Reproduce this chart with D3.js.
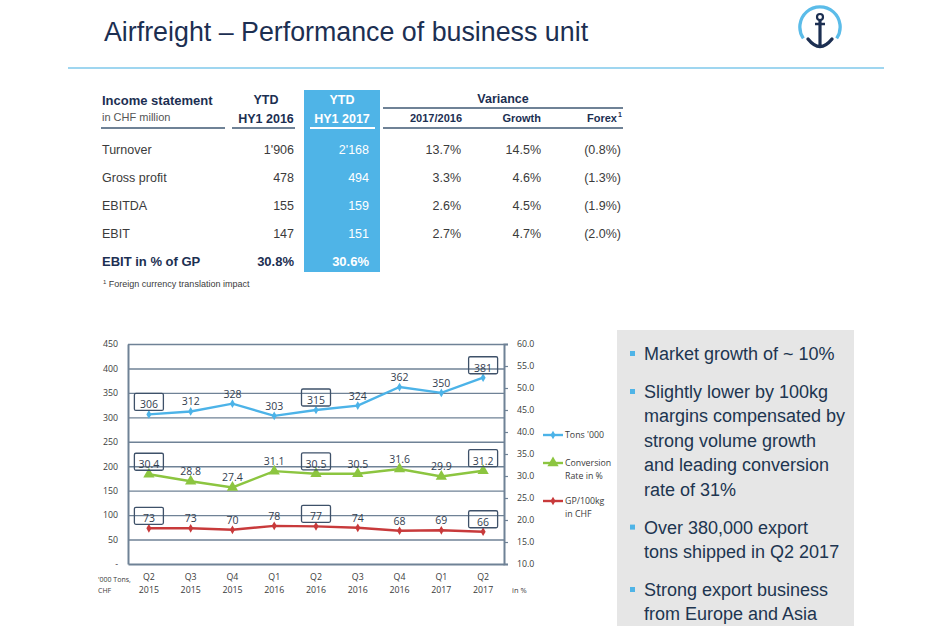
<!DOCTYPE html>
<html>
<head>
<meta charset="utf-8">
<script src="https://cdn.jsdelivr.net/npm/d3@7"></script>
<style>
  body { margin: 0; background: #fff; }
  svg { display: block; font-family: "Liberation Sans", Arial, sans-serif; }
</style>
</head>
<body>
<div id="slide"></div>
<script>
// chart data
const quarters = ["Q2", "Q3", "Q4", "Q1", "Q2", "Q3", "Q4", "Q1", "Q2"];
const years = ["2015", "2015", "2015", "2016", "2016", "2016", "2016", "2017", "2017"];
const tons = [306, 312, 328, 303, 315, 324, 362, 350, 381];
const conversion = [30.4, 28.8, 27.4, 31.1, 30.5, 30.5, 31.6, 29.9, 31.2];
const gpPer100kg = [73, 73, 70, 78, 77, 74, 68, 69, 66];
const boxedIdx = [0, 4, 8];
const leftTicks = [0, 50, 100, 150, 200, 250, 300, 350, 400, 450];
const rightTicks = [10, 15, 20, 25, 30, 35, 40, 45, 50, 55, 60];

// table data
const rowLabels = ["Turnover", "Gross profit", "EBITDA", "EBIT", "EBIT in % of GP"];
const hy2016 = ["1'906", "478", "155", "147", "30.8%"];
const hy2017 = ["2'168", "494", "159", "151", "30.6%"];
const var1716 = ["13.7%", "3.3%", "2.6%", "2.7%", ""];
const growth = ["14.5%", "4.6%", "4.5%", "4.7%", ""];
const forex = ["(0.8%)", "(1.3%)", "(1.9%)", "(2.0%)", ""];

const bullets = [
    ["Market growth of ~ 10%"],
    ["Slightly lower by 100kg", "margins compensated by", "strong volume growth", "and leading conversion", "rate of 31%"],
    ["Over 380,000 export", "tons shipped in Q2 2017"],
    ["Strong export business", "from Europe and Asia"]
];

const W = 950, H = 634;
const navy = "#1c2f52", textGrey = "#3b3b3b", slate = "#6f8296";
const cTons = "#4cb3e8", cConv = "#8cc540", cGp = "#c83a3b";

const svg = d3.select("#slide").append("svg").attr("width", W).attr("height", H);
svg.append("rect").attr("width", W).attr("height", H).attr("fill", "#fff");

// ---- header ----
svg.append("text").attr("x", 104).attr("y", 41)
    .attr("font-size", 26.8).attr("fill", navy)
    .text("Airfreight \u2013 Performance of business unit");
svg.append("line").attr("x1", 68).attr("x2", 884).attr("y1", 68).attr("y2", 68)
    .attr("stroke", "#9fd6f0").attr("stroke-width", 2);

// logo
const logo = svg.append("g").attr("transform", "translate(820,27)");
const ring = d3.arc().innerRadius(18.5).outerRadius(21.8)
    .startAngle(-Math.PI * 0.69).endAngle(Math.PI * 0.69);
logo.append("path").attr("d", ring()).attr("fill", "#5bbce9");
logo.append("circle").attr("cx", 0).attr("cy", -10).attr("r", 3).attr("fill", "none")
    .attr("stroke", navy).attr("stroke-width", 2.2);
logo.append("line").attr("x1", 0).attr("x2", 0).attr("y1", -7).attr("y2", 20)
    .attr("stroke", navy).attr("stroke-width", 3.2);
logo.append("line").attr("x1", -5).attr("x2", 5).attr("y1", -3).attr("y2", -3)
    .attr("stroke", navy).attr("stroke-width", 2.5);
logo.append("path").attr("d", "M-12,12 Q0,27 12,12").attr("fill", "none")
    .attr("stroke", navy).attr("stroke-width", 3.4).attr("stroke-linecap", "round");

// ---- income statement table ----
const tbl = svg.append("g");
const rowY = d3.scalePoint().domain(rowLabels).range([154, 266]);

tbl.append("rect").attr("x", 304).attr("y", 90).attr("width", 76).attr("height", 182)
    .attr("fill", "#4fb4e7");

tbl.append("text").attr("x", 102).attr("y", 105).attr("font-size", 13).attr("font-weight", "bold")
    .attr("fill", navy).text("Income statement");
tbl.append("text").attr("x", 102).attr("y", 121).attr("font-size", 11).attr("fill", "#555")
    .text("in CHF million");
tbl.append("text").attr("x", 266).attr("y", 104).attr("font-size", 12.5).attr("font-weight", "bold")
    .attr("text-anchor", "middle").attr("fill", navy).text("YTD");
tbl.append("text").attr("x", 266).attr("y", 123).attr("font-size", 12.5).attr("font-weight", "bold")
    .attr("text-anchor", "middle").attr("fill", navy).text("HY1 2016");
tbl.append("text").attr("x", 342).attr("y", 104).attr("font-size", 12.5).attr("font-weight", "bold")
    .attr("text-anchor", "middle").attr("fill", "#fff").text("YTD");
tbl.append("text").attr("x", 342).attr("y", 123).attr("font-size", 12.5).attr("font-weight", "bold")
    .attr("text-anchor", "middle").attr("fill", "#fff").text("HY1 2017");
tbl.append("text").attr("x", 503).attr("y", 103).attr("font-size", 12.5).attr("font-weight", "bold")
    .attr("text-anchor", "middle").attr("fill", navy).text("Variance");
tbl.append("line").attr("x1", 383).attr("x2", 623).attr("y1", 108).attr("y2", 108)
    .attr("stroke", slate).attr("stroke-width", 2);

const subHead = [["2017/2016", 462], ["Growth", 541], ["Forex", 617]];
tbl.selectAll("text.sub").data(subHead).join("text").attr("class", "sub")
    .attr("x", d => d[1]).attr("y", 122).attr("font-size", 11).attr("font-weight", "bold")
    .attr("text-anchor", "end").attr("fill", navy).text(d => d[0]);
tbl.append("text").attr("x", 618).attr("y", 117).attr("font-size", 7).attr("font-weight", "bold")
    .attr("fill", navy).text("1");

const underlines = [[101, 225, slate], [232, 295, slate], [310, 375, "#fff"], [383, 623, slate]];
tbl.selectAll("line.ul").data(underlines).join("line").attr("class", "ul")
    .attr("x1", d => d[0]).attr("x2", d => d[1]).attr("y1", 128).attr("y2", 128)
    .attr("stroke", d => d[2]).attr("stroke-width", 2);

const lastRow = rowLabels[rowLabels.length - 1];
function col(values, xRight, fill) {
    tbl.append("g").selectAll("text").data(rowLabels).join("text")
        .attr("x", xRight).attr("y", d => rowY(d))
        .attr("text-anchor", xRight < 150 ? "start" : "end")
        .attr("font-size", d => d === lastRow ? 13 : 12.5)
        .attr("font-weight", d => d === lastRow ? "bold" : "normal")
        .attr("fill", d => d === lastRow && fill !== "#fff" ? navy : fill)
        .text((d, i) => values[i]);
}
col(rowLabels, 102, textGrey);
col(hy2016, 294, textGrey);
col(hy2017, 369, "#fff");
col(var1716, 461, textGrey);
col(growth, 541, textGrey);
col(forex, 621, textGrey);

tbl.append("text").attr("x", 103).attr("y", 287).attr("font-size", 9).attr("fill", textGrey)
    .html('<tspan font-size="6" dy="-3">1</tspan><tspan dy="3"> Foreign currency translation impact</tspan>');

// ---- chart ----
const plotL = 128, plotR = 504, plotT = 344, plotB = 564;
const x = d3.scaleBand().domain(d3.range(quarters.length)).range([plotL, plotR]);
const cx = i => x(i) + x.bandwidth() / 2;
const yL = d3.scaleLinear().domain([0, 450]).range([plotB, plotT]);
const yR = d3.scaleLinear().domain([10, 60]).range([plotB, plotT]);

const chart = svg.append("g").attr("font-family", "'Open Sans', sans-serif");

// gridlines
chart.append("g").attr("transform", `translate(${plotL},0)`)
    .call(d3.axisLeft(yL).tickValues(leftTicks.slice(1)).tickSize(-(plotR - plotL)).tickFormat(""))
    .call(g => g.select(".domain").remove())
    .call(g => g.selectAll(".tick line").attr("stroke", slate).attr("stroke-width", 1.4));

// left axis
chart.append("g").attr("transform", `translate(${plotL},0)`)
    .call(d3.axisLeft(yL).tickValues(leftTicks).tickSize(0).tickPadding(10)
        .tickFormat(d => d === 0 ? "-" : d))
    .call(g => g.select(".domain").attr("stroke", slate).attr("stroke-width", 2))
    .call(g => g.selectAll(".tick text").attr("font-size", 8.8).attr("fill", textGrey)
        .attr("font-family", "'Open Sans', sans-serif"));

// right axis
chart.append("g").attr("transform", `translate(${plotR},0)`)
    .call(d3.axisRight(yR).tickValues(rightTicks).tickSize(4).tickPadding(9).tickFormat(d3.format(".1f")))
    .call(g => g.select(".domain").attr("stroke", slate).attr("stroke-width", 2))
    .call(g => g.selectAll(".tick line").attr("stroke", slate).attr("stroke-width", 1.2))
    .call(g => g.selectAll(".tick text").attr("font-size", 8.8).attr("fill", textGrey)
        .attr("font-family", "'Open Sans', sans-serif"));

// bottom axis
chart.append("g").attr("transform", `translate(0,${plotB})`)
    .call(d3.axisBottom(x).tickSize(0).tickPadding(10).tickFormat(i => quarters[i]))
    .call(g => g.select(".domain").attr("stroke", slate).attr("stroke-width", 2))
    .call(g => g.selectAll(".tick text").attr("font-size", 8.8).attr("fill", textGrey)
        .attr("font-family", "'Open Sans', sans-serif")
        .each(function(i) {
            d3.select(this).append("tspan").attr("x", 0).attr("dy", "1.5em").text(years[i]);
        }));

chart.append("text").attr("x", 98).attr("y", 582).attr("font-size", 7).attr("fill", textGrey)
    .text("'000 Tons,");
chart.append("text").attr("x", 98).attr("y", 593).attr("font-size", 7).attr("fill", textGrey)
    .text("CHF");
chart.append("text").attr("x", 512).attr("y", 593).attr("font-size", 7.5).attr("fill", textGrey)
    .text("in %");

const series = [
    { name: ["Tons '000"], values: tons, y: yL, color: cTons, symbol: d3.symbolDiamond, size: 22, ly: 435 },
    { name: ["Conversion", "Rate in %"], values: conversion, y: yR, color: cConv, symbol: d3.symbolTriangle, size: 55, ly: 463 },
    { name: ["GP/100kg", "in CHF"], values: gpPer100kg, y: yL, color: cGp, symbol: d3.symbolDiamond, size: 22, ly: 501 }
];

series.forEach(s => {
    const g = chart.append("g");
    g.append("path").datum(s.values)
        .attr("fill", "none").attr("stroke", s.color).attr("stroke-width", 2.4)
        .attr("d", d3.line().x((d, i) => cx(i)).y(d => s.y(d)));
    g.selectAll("path.m").data(s.values).join("path").attr("class", "m")
        .attr("transform", (d, i) => `translate(${cx(i)},${s.y(d)})`)
        .attr("d", d3.symbol(s.symbol, s.size)).attr("fill", s.color);
    // data labels
    g.selectAll("text.lbl").data(s.values).join("text").attr("class", "lbl")
        .attr("x", (d, i) => cx(i)).attr("y", d => s.y(d) - 6)
        .attr("text-anchor", "middle").attr("font-size", 10.5).attr("fill", "#33404f")
        .text(d => d);
    // boxed labels
    g.selectAll("rect.box").data(boxedIdx).join("rect").attr("class", "box")
        .attr("x", i => cx(i) - 14.5).attr("y", i => s.y(s.values[i]) - 21)
        .attr("width", 29).attr("height", 17).attr("rx", 1.5)
        .attr("fill", "none").attr("stroke", "#3e5169").attr("stroke-width", 1.3);
    // legend
    const lg = chart.append("g").attr("transform", `translate(543,${s.ly})`);
    lg.append("line").attr("x1", 0).attr("x2", 20).attr("stroke", s.color).attr("stroke-width", 2.4);
    lg.append("path").attr("transform", "translate(10,0)").attr("d", d3.symbol(s.symbol, s.size)).attr("fill", s.color);
    lg.selectAll("text").data(s.name).join("text")
        .attr("x", 22).attr("y", (d, i) => 3 + i * 13)
        .attr("font-size", 8.8).attr("fill", textGrey).text(d => d);
});

// ---- comment panel ----
svg.append("rect").attr("x", 617).attr("y", 330).attr("width", 237).attr("height", 296).attr("fill", "#e6e6e6");
const lineH = 24.4, gapH = 38;
let yPos = 360;
bullets.forEach(lines => {
    svg.append("rect").attr("x", 630).attr("y", yPos - 9).attr("width", 5).attr("height", 5).attr("fill", "#4fb4e7");
    lines.forEach((t, j) => {
        svg.append("text").attr("x", 644).attr("y", yPos + j * lineH)
            .attr("font-size", 18).attr("fill", "#203550").text(t);
    });
    yPos += (lines.length - 1) * lineH + gapH;
});
</script>
</body>
</html>
